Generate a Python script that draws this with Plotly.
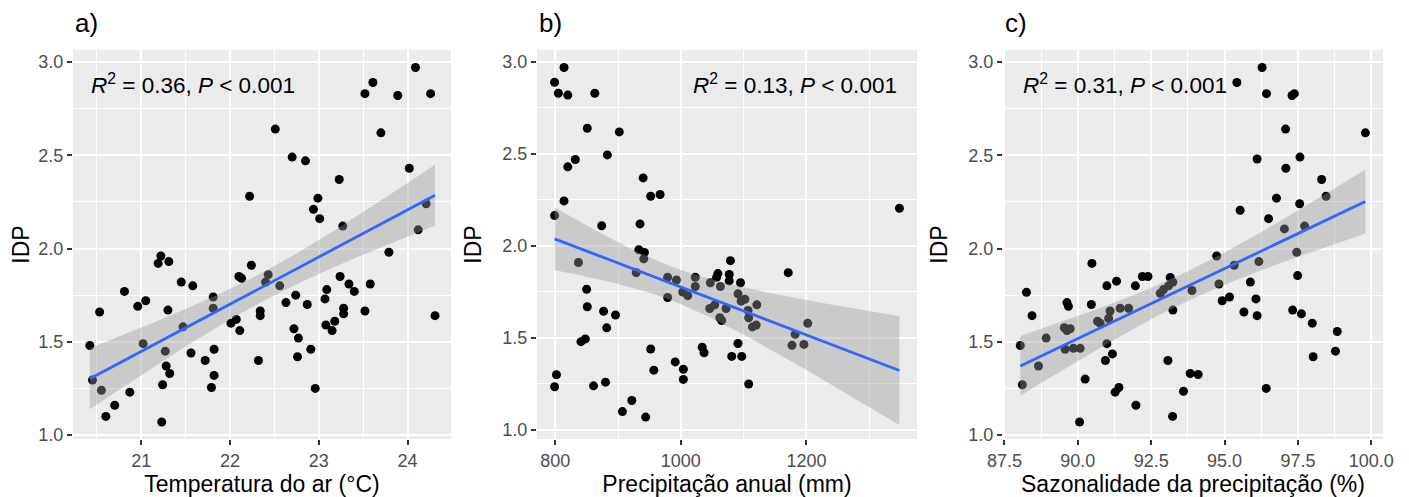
import numpy as np
import plotly.graph_objects as go

# ---------------- data ----------------
temp_x = [24.09, 23.61, 23.52, 23.89, 24.26, 22.51, 23.70, 22.70, 22.85, 24.02,
          23.23, 22.22, 22.99, 22.94, 23.01, 24.21, 23.27, 24.12, 23.79, 21.22,
          21.31, 21.19, 22.24, 22.10, 22.13, 22.43, 22.40, 22.56, 21.45, 21.58,
          23.24, 23.34, 23.40, 23.58, 23.09, 23.07, 22.74, 22.63, 22.87, 20.81,
          21.05, 20.96, 20.53, 21.30, 21.81, 21.81, 22.34, 22.34, 23.28, 23.28,
          23.52, 24.31, 22.01, 22.07, 22.11, 21.47, 23.08, 23.18, 23.15, 22.72,
          22.77, 22.91, 22.76, 20.42, 21.02, 21.27, 21.82, 21.56, 21.72, 22.32,
          21.28, 21.32, 21.82, 20.45, 21.24, 21.79, 22.96, 20.55, 20.87, 20.70,
          20.60, 21.23]
temp_y = [2.97, 2.89, 2.83, 2.82, 2.83, 2.64, 2.62, 2.49, 2.47, 2.43,
          2.37, 2.28, 2.27, 2.21, 2.16, 2.24, 2.12, 2.10, 1.98, 1.96,
          1.93, 1.92, 1.91, 1.85, 1.84, 1.86, 1.82, 1.80, 1.82, 1.80,
          1.85, 1.81, 1.77, 1.81, 1.78, 1.73, 1.75, 1.71, 1.70, 1.77,
          1.72, 1.69, 1.66, 1.67, 1.74, 1.68, 1.665, 1.64, 1.68, 1.65,
          1.665, 1.64, 1.60, 1.62, 1.56, 1.58, 1.59, 1.61, 1.56, 1.57,
          1.52, 1.46, 1.42, 1.48, 1.49, 1.45, 1.46, 1.44, 1.40, 1.40,
          1.37, 1.33, 1.32, 1.295, 1.27, 1.255, 1.25, 1.24, 1.23, 1.16,
          1.10, 1.07]

prec_x = [814, 799, 805, 820, 863, 851, 902, 832, 820, 883,
          940, 952, 967, 814, 799, 874, 935, 1348, 933, 942, 1079,
          941, 837, 1171, 929, 979, 993, 1023, 1023, 1059, 1057,
          1077, 1077, 1047, 1063, 1095, 1003, 1011, 979, 1091, 1102,
          1096, 1121, 1046, 1054, 1072, 1107, 1108, 1062, 1065, 1114,
          1120, 1202, 1182, 1177, 1196,
          850, 851, 877, 896, 882, 848, 841, 952, 1034, 1037,
          1091, 1081, 1097, 991, 1004, 957, 802, 799, 861, 880,
          1004, 1108, 922, 907, 944]
prec_y = [2.97, 2.89, 2.83, 2.82, 2.83, 2.64, 2.62, 2.47, 2.43, 2.495,
          2.37, 2.27, 2.28, 2.245, 2.165, 2.11, 2.12, 2.205, 1.98, 1.965, 1.92,
          1.93, 1.91, 1.855, 1.855, 1.83, 1.815, 1.83, 1.78, 1.85, 1.83,
          1.845, 1.81, 1.80, 1.78, 1.80, 1.75, 1.73, 1.72, 1.74, 1.71,
          1.70, 1.68, 1.66, 1.68, 1.66, 1.65, 1.61, 1.61, 1.595, 1.56,
          1.57, 1.58, 1.52, 1.46, 1.465,
          1.765, 1.67, 1.645, 1.625, 1.555, 1.495, 1.48, 1.44, 1.45, 1.42,
          1.47, 1.40, 1.40, 1.37, 1.33, 1.325, 1.30, 1.235, 1.24, 1.26,
          1.275, 1.25, 1.16, 1.10, 1.07]

saz_x = [96.28, 95.42, 96.43, 97.30, 97.38, 97.08, 99.80, 96.11, 97.57, 97.09,
         98.31, 96.77, 97.56, 98.46, 95.53, 96.50, 97.04, 97.73, 97.46, 94.73, 96.17,
         95.33, 94.81, 95.88, 97.49, 94.92, 95.17, 96.07, 95.66, 96.11, 97.32,
         97.62, 97.99, 98.84, 98.78, 98.02, 96.42,
         90.48, 88.25, 88.44, 89.63, 89.68, 90.46, 90.99, 91.32, 91.96, 92.20,
         92.39, 93.15, 93.24, 93.09, 92.92, 92.81, 93.89, 93.24, 91.10, 91.44,
         91.73, 91.05, 90.67, 90.76, 88.92, 89.54, 89.74, 89.63,
         88.04, 89.57, 89.85, 90.08, 90.99, 91.18, 90.94, 88.66, 93.07, 88.11,
         90.25, 93.83, 94.10, 91.27, 91.40, 93.60, 91.98, 93.23, 90.06]
saz_y = [2.97, 2.89, 2.83, 2.82, 2.83, 2.64, 2.62, 2.48, 2.49, 2.43,
         2.37, 2.27, 2.24, 2.28, 2.205, 2.16, 2.105, 2.12, 1.98, 1.96, 1.93,
         1.91, 1.81, 1.82, 1.855, 1.72, 1.74, 1.73, 1.66, 1.64, 1.67,
         1.65, 1.60, 1.555, 1.45, 1.42, 1.25,
         1.92, 1.765, 1.64, 1.71, 1.69, 1.70, 1.80, 1.825, 1.80, 1.85,
         1.85, 1.845, 1.82, 1.80, 1.78, 1.76, 1.775, 1.67, 1.665, 1.68,
         1.68, 1.625, 1.61, 1.60, 1.52, 1.575, 1.57, 1.56,
         1.48, 1.46, 1.465, 1.465, 1.49, 1.435, 1.40, 1.37, 1.40, 1.27,
         1.30, 1.33, 1.325, 1.23, 1.255, 1.235, 1.16, 1.10, 1.07]

panel_labels = ["a)", "b)", "c)"]
x_titles = ["Temperatura do ar (°C)", "Precipitação anual (mm)", "Sazonalidade da precipitação (%)"]
y_title = "IDP"
stats_text = ["<i>R</i><sup>2</sup> = 0.36, <i>P</i> &lt; 0.001",
              "<i>R</i><sup>2</sup> = 0.13, <i>P</i> &lt; 0.001",
              "<i>R</i><sup>2</sup> = 0.31, <i>P</i> &lt; 0.001"]


def lm_fit(x, y, t=1.990, n_out=80):
    x = np.asarray(x, float)
    y = np.asarray(y, float)
    n = len(x)
    b, a = np.polyfit(x, y, 1)
    xs = np.linspace(x.min(), x.max(), n_out)
    yh = a + b * xs
    resid = y - (a + b * x)
    s = np.sqrt(np.sum(resid ** 2) / (n - 2))
    sxx = np.sum((x - x.mean()) ** 2)
    se = s * np.sqrt(1.0 / n + (xs - x.mean()) ** 2 / sxx)
    return xs, yh, yh - t * se, yh + t * se


# figure sits inside the page's 8px body margin
W, H = 1401, 489
x_dom = [(65, 443), (529, 909), (995, 1375)]
y_dom = (42, 431)
x_ranges = [[20.23, 24.49], [771, 1376], [87.45, 100.4]]
y_ranges = [[0.979, 3.064], [0.951, 3.065], [0.979, 3.064]]
x_tick = [(21, 1, 0.5, None), (800, 200, 100, None), (87.5, 2.5, 1.25, ".1f")]

datasets = [(temp_x, temp_y), (prec_x, prec_y), (saz_x, saz_y)]

fig = go.Figure()
FONT = "Liberation Sans, Arial, sans-serif"

for i, (xd, yd) in enumerate(datasets):
    sfx = "" if i == 0 else str(i + 1)
    xa, ya = "x" + sfx, "y" + sfx
    fig.add_trace(go.Scatter(x=xd, y=yd, mode="markers", xaxis=xa, yaxis=ya,
                             marker=dict(color="black", size=9),
                             showlegend=False, hoverinfo="x+y"))
    xs, yh, lo, hi = lm_fit(xd, yd)
    fig.add_trace(go.Scatter(x=np.concatenate([xs, xs[::-1]]),
                             y=np.concatenate([hi, lo[::-1]]),
                             mode="lines", fill="toself",
                             fillcolor="rgba(153,153,153,0.4)",
                             line=dict(width=0), xaxis=xa, yaxis=ya,
                             showlegend=False, hoverinfo="skip"))
    fig.add_trace(go.Scatter(x=xs, y=yh, mode="lines", xaxis=xa, yaxis=ya,
                             line=dict(color="#3366FF", width=2.8),
                             showlegend=False, hoverinfo="skip"))

    t0, dt, mdt, fmt = x_tick[i]
    xaxis = dict(domain=[x_dom[i][0] / W, x_dom[i][1] / W], range=x_ranges[i],
                 anchor=ya, tick0=t0, dtick=dt, ticks="outside", ticklen=5,
                 tickwidth=1.5, tickcolor="#333333", showgrid=True,
                 gridcolor="white", gridwidth=2, zeroline=False, showline=False,
                 minor=dict(tick0=t0, dtick=mdt, showgrid=True, gridcolor="white", gridwidth=1),
                 tickfont=dict(family=FONT, size=18, color="#4D4D4D"),
                 title=dict(text=x_titles[i], standoff=5,
                            font=dict(family=FONT, size=23, color="black")),
                 automargin=False)
    if fmt:
        xaxis["tickformat"] = fmt
    yaxis = dict(domain=[1 - y_dom[1] / H, 1 - y_dom[0] / H], range=y_ranges[i],
                 anchor=xa, tick0=1, dtick=0.5, tickformat=".1f", ticks="outside",
                 ticklen=5, tickwidth=1.5, tickcolor="#333333", showgrid=True,
                 gridcolor="white", gridwidth=2, zeroline=False, showline=False,
                 minor=dict(tick0=1, dtick=0.25, showgrid=True, gridcolor="white", gridwidth=1),
                 tickfont=dict(family=FONT, size=18, color="#4D4D4D"),
                 title=dict(text=y_title, standoff=14,
                            font=dict(family=FONT, size=23, color="black")),
                 automargin=False)
    fig.update_layout(**{"xaxis" + sfx: xaxis, "yaxis" + sfx: yaxis})

annotations = []
for i in range(3):
    annotations.append(dict(text=panel_labels[i], xref="paper", yref="paper",
                            x=x_dom[i][0] / W, y=1 - 15 / H, xanchor="left", yanchor="middle",
                            showarrow=False, font=dict(family=FONT, size=26, color="black")))

stat_pos = [(81, "left"), (891, "right"), (1013, "left")]
for i in range(3):
    px, anc = stat_pos[i]
    annotations.append(dict(text=stats_text[i], xref="paper", yref="paper",
                            x=px / W, y=1 - 76 / H, xanchor=anc, yanchor="middle",
                            showarrow=False, font=dict(family=FONT, size=22.5, color="black")))

fig.update_layout(width=W, height=H, margin=dict(l=0, r=0, t=0, b=0),
                  paper_bgcolor="white", plot_bgcolor="#EBEBEB",
                  annotations=annotations, font=dict(family=FONT))

fig.write_html("out.html")
